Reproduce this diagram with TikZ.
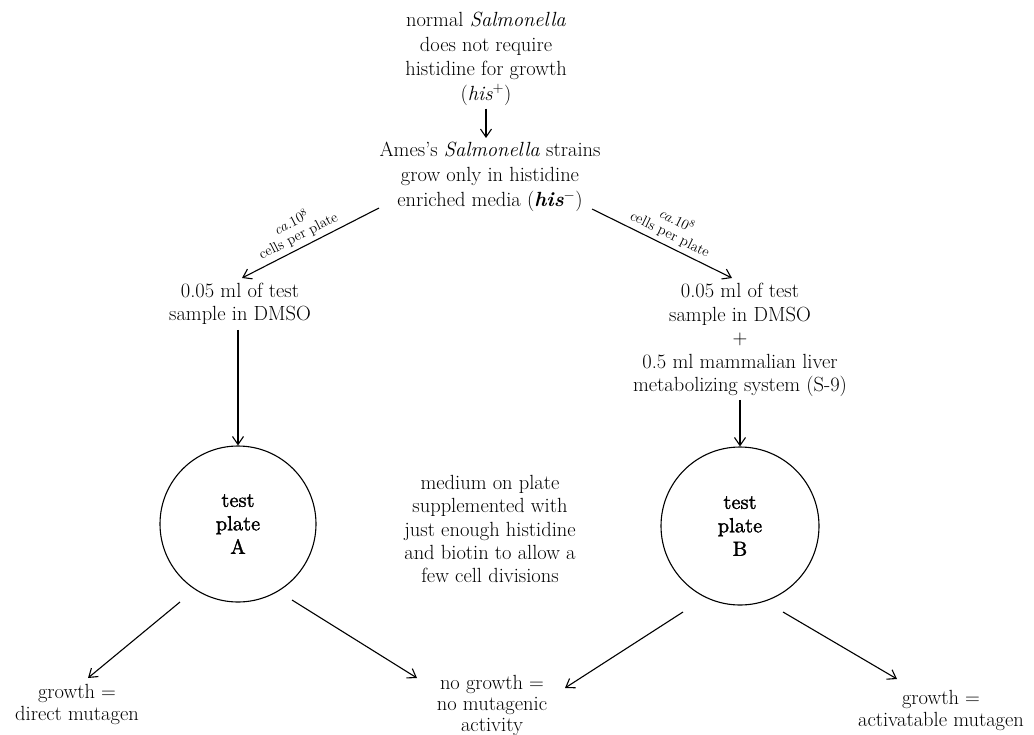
\documentclass[tikz,border=0pt]{standalone}
\usepackage{fontspec}
\newfontfamily\platefont{lmroman10-regular.otf}[FakeBold=1.5]
\usetikzlibrary{arrows.meta,calc}
\begin{document}
\begin{tikzpicture}[x=1pt,y=-1pt,
  txt/.style={align=center, inner sep=0pt},
  body/.style={font=\fontsize{20.5}{#1}\selectfont},
  body/.default=23.5,
  lbl/.style={align=center, inner sep=1pt, font=\fontsize{14.5}{15}\selectfont},
  plate/.style={circle, draw, line width=1.1pt, inner sep=0pt, align=center, font=\platefont\fontsize{20.5}{23.5}\selectfont},
  arr/.style={-{Straight Barb[length=8pt,width=11pt]}, line width=1.1pt}]
\useasboundingbox (0,0) rectangle (1034,734);

\node[txt, body=24.5] (top) at (486,59) {normal \textit{Salmonella}\\does not require\\histidine for growth\\(\textit{his}\textsuperscript{+})};
\node[txt, body=25] (ames) at (490,177) {Ames's \textit{Salmonella} strains\\grow only in histidine\\enriched media (\textit{\textbf{his}}\textsuperscript{$-$})};
\node[txt, body=23] (left) at (240,304) {0.05 ml of test\\sample in DMSO};
\node[txt, body=23.5] (right) at (740,340) {0.05 ml of test\\sample in DMSO\\+\\0.5 ml mammalian liver\\metabolizing system (S-9)};
\node[plate, minimum size=156pt] (plateA) at (238,524) {test\\plate\\A};
\node[plate, minimum size=158pt] (plateB) at (740,526) {test\\plate\\B};
\node[txt, body=23.3] (mid) at (490,529) {medium on plate\\supplemented with\\just enough histidine\\and biotin to allow a\\few cell divisions};
\node[txt, body=22] (outA) at (77,704) {growth =\\direct mutagen};
\node[txt, body=21] (outM) at (492,705) {no growth =\\no mutagenic\\activity};
\node[txt, body=22] (outB) at (941,710) {growth =\\activatable mutagen};

\draw[arr, shorten <=3pt, shorten >=4pt] (top.south) -- (top.south |- ames.north);
\draw[arr] ([shift={(-111,31)}]ames.center) -- node[lbl, sloped, above=3pt, pos=0.55] {\textit{ca.}10\textsuperscript{8}\\cells per plate} ([shift={(2,-26)}]left.center);
\draw[arr] ([shift={(102,32)}]ames.center) -- node[lbl, sloped, above=3pt, pos=0.52] {\textit{ca.}10\textsuperscript{8}\\cells per plate} ([shift={(-8,-62)}]right.center);
\draw[arr, shorten <=5pt] (plateA.north |- left.south) -- (plateA.north);
\draw[arr, shorten <=3pt] (right.south) -- (plateB.north);
\draw[arr] ([shift={(-58,78)}]plateA.center) -- ([shift={(11,-26)}]outA.center);
\draw[arr] ([shift={(54,76)}]plateA.center) -- ([shift={(-75,-27)}]outM.center);
\draw[arr] ([shift={(-57,86)}]plateB.center) -- ([shift={(73,-17)}]outM.center);
\draw[arr] ([shift={(43,86)}]plateB.center) -- ([shift={(-44,-31)}]outB.center);
\end{tikzpicture}
\end{document}
